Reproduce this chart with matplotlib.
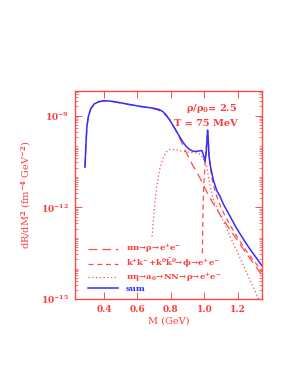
import numpy as np
import matplotlib
matplotlib.use("Agg")
import matplotlib.pyplot as plt
from matplotlib.ticker import FixedLocator, LogLocator, NullFormatter

plt.rcParams['font.family'] = ['DejaVu Serif']
plt.rcParams['mathtext.fontset'] = 'dejavuserif'
plt.rcParams['font.weight'] = 'bold'
plt.rcParams['mathtext.default'] = 'bf'

RED = '#ff4a4a'
TXT = '#ff3b3b'
BLUE = '#2f2fff'

# ---- data (log10 of dR/dM^2) ----
m_sum = [0.286, 0.289, 0.293, 0.298, 0.306, 0.32, 0.34, 0.37, 0.40, 0.45, 0.50, 0.55,
         0.60, 0.65, 0.70, 0.73, 0.75, 0.77, 0.79, 0.81, 0.83, 0.85, 0.87, 0.89,
         0.91, 0.93, 0.95, 0.97, 0.985, 0.995, 1.003, 1.010, 1.015, 1.019, 1.023,
         1.028, 1.036, 1.054, 1.074, 1.094, 1.114, 1.154, 1.194, 1.234, 1.274,
         1.31, 1.344]
lg_sum = [-10.68, -10.3, -9.8, -9.35, -9.03, -8.78, -8.62, -8.54, -8.51, -8.53, -8.58, -8.63,
          -8.68, -8.72, -8.76, -8.8, -8.86, -8.97, -9.12, -9.3, -9.48, -9.67, -9.85, -10.0,
          -10.1, -10.16, -10.17, -10.15, -10.14, -10.3, -10.5, -10.25, -9.85, -9.47, -9.8,
          -10.35, -10.65, -11.12, -11.45, -11.65, -11.9, -12.3, -12.7, -13.05, -13.38,
          -13.65, -13.91]

m_rho = [0.286, 0.289, 0.293, 0.298, 0.306, 0.32, 0.34, 0.37, 0.40, 0.45, 0.50, 0.55,
         0.60, 0.65, 0.70, 0.73, 0.75, 0.77, 0.795, 0.82, 0.85, 0.87, 0.895, 0.93,
         0.97, 1.01, 1.05, 1.10, 1.15, 1.20, 1.25, 1.30, 1.344]
lg_rho = [-10.69, -10.31, -9.81, -9.36, -9.04, -8.79, -8.63, -8.55, -8.52, -8.54, -8.59, -8.64,
          -8.69, -8.73, -8.78, -8.83, -8.9, -9.0, -9.14, -9.4, -9.72, -9.95, -10.24, -10.62,
          -11.0, -11.45, -11.85, -12.3, -12.7, -13.1, -13.5, -13.88, -14.22]

m_phi = [0.988, 0.990, 0.993, 0.996, 1.000, 1.005, 1.010, 1.015, 1.019, 1.023, 1.028,
         1.035, 1.045, 1.060, 1.080, 1.100, 1.150, 1.200, 1.250, 1.300, 1.344]
lg_phi = [-13.5, -12.6, -11.8, -11.3, -10.95, -10.5, -10.1, -9.8, -9.55, -9.85, -10.3,
          -10.7, -11.05, -11.4, -11.75, -12.02, -12.55, -13.0, -13.42, -13.78, -14.08]

m_pie = [0.687, 0.695, 0.705, 0.715, 0.725, 0.735, 0.75, 0.765, 0.78, 0.795, 0.82,
         0.85, 0.90, 0.95, 0.975, 1.00, 1.015, 1.03, 1.054, 1.10, 1.15, 1.20, 1.25,
         1.30, 1.324]
lg_pie = [-12.95, -12.4, -11.8, -11.34, -10.98, -10.7, -10.42, -10.24, -10.14, -10.1, -10.11,
          -10.14, -10.19, -10.22, -10.26, -10.45, -10.68, -11.2, -11.77, -12.3, -12.9, -13.5,
          -14.1, -14.7, -15.0]

xticks = [0.4, 0.6, 0.8, 1.0, 1.2]
yticks = [1e-15, 1e-12, 1e-9]
ylabels = [r'$10^{-15}$', r'$10^{-12}$', r'$10^{-9}$']

fig = plt.figure(figsize=(2.95, 3.82), dpi=100)
ax = fig.add_axes([0.254, 0.217, 0.634, 0.545])

ax.plot(m_rho, 10.0**np.array(lg_rho), color=RED, lw=0.9, ls=(0, (7, 4)),
        label=r'$\pi\pi\!\rightarrow\!\rho\!\rightarrow\!e^{+}e^{-}$')
ax.plot(m_phi, 10.0**np.array(lg_phi), color=RED, lw=0.9, ls=(0, (4, 3)),
        label=r'$k^{+}k^{-}\!+\!k^{0}\bar{k}^{0}\!\!\rightarrow\!\phi\!\rightarrow\!e^{+}e^{-}$')
ax.plot(m_pie, 10.0**np.array(lg_pie), color=RED, lw=0.9, ls=(0, (1, 2)),
        label=r'$\pi\eta\!\rightarrow\!a_0\!\rightarrow\!NN\!\rightarrow\!\rho\!\rightarrow\!e^{+}e^{-}$')
ax.plot(m_sum, 10.0**np.array(lg_sum), color=BLUE, lw=1.1, label='sum')

ax.set_yscale('log')
ax.set_xlim(0.226, 1.344)
ax.set_ylim(1e-15, 10**-8.19)

ax.xaxis.set_major_locator(FixedLocator(xticks))
ax.set_xticklabels([f'{v:.1f}' for v in xticks])
ax.yaxis.set_major_locator(FixedLocator(yticks))
ax.set_yticklabels(ylabels)
ax.yaxis.set_minor_locator(LogLocator(base=10, subs=np.arange(1, 10), numticks=100))
ax.yaxis.set_minor_formatter(NullFormatter())

ax.tick_params(which='both', direction='in', top=True, right=True, colors=RED,
               labelcolor=TXT, labelsize=6.5, pad=4)
ax.tick_params(which='major', length=5, width=0.7)
ax.tick_params(which='minor', length=2.5, width=0.5)
for s in ax.spines.values():
    s.set_color(RED)
    s.set_linewidth(1.0)

ax.set_xlabel('M (GeV)', color=TXT, fontsize=7, labelpad=2)
ax.set_ylabel(r'dR/dM$^2$ (fm$^{-4}$ GeV$^{-2}$)', color=TXT, fontsize=7, labelpad=6)

ax.text(0.87, 0.915, r'$\rho/\rho_0$= 2.5', transform=ax.transAxes, color=TXT,
        fontsize=7, ha='right', va='center')
ax.text(0.87, 0.845, 'T = 75 MeV', transform=ax.transAxes, color=TXT,
        fontsize=7, ha='right', va='center')

leg = ax.legend(loc='lower left', bbox_to_anchor=(0.04, 0.0), frameon=False,
                fontsize=6, handlelength=3.6, handletextpad=0.9, labelspacing=0.15,
                borderaxespad=0.3)
for t, c in zip(leg.get_texts(), [TXT, TXT, TXT, BLUE]):
    t.set_color(c)

fig.savefig('out.png', dpi=100)
